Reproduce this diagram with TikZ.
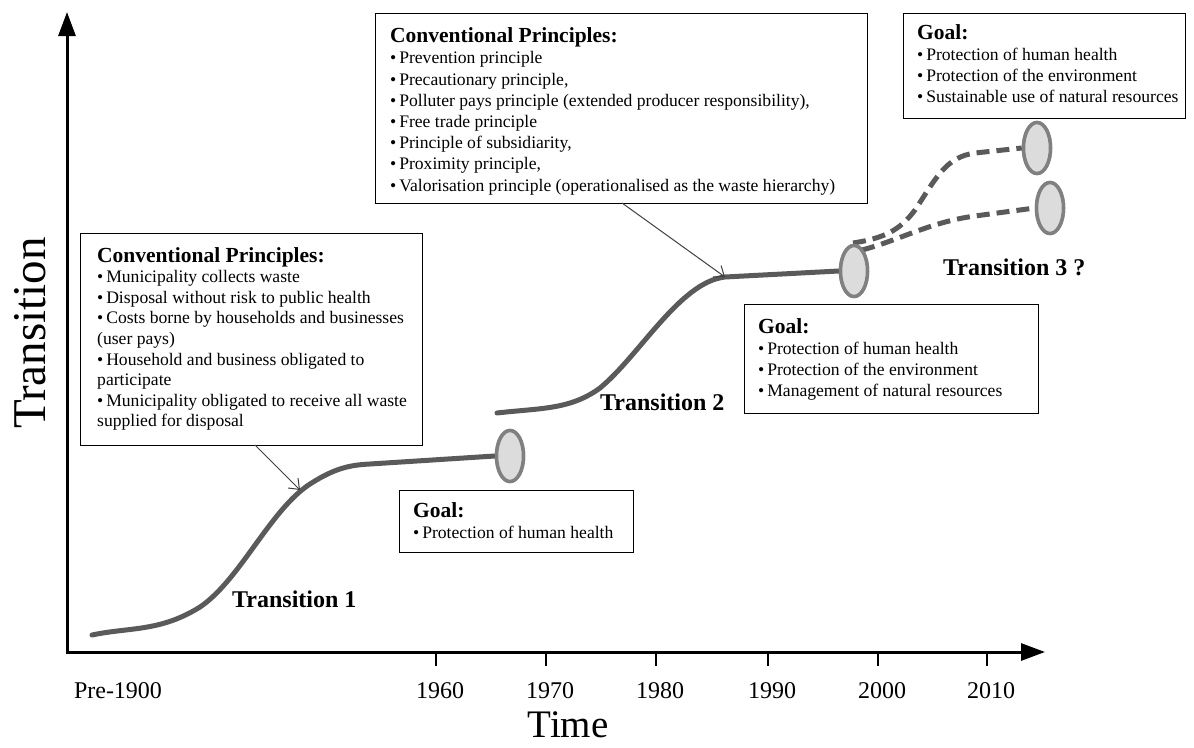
\documentclass[tikz,border=0pt]{standalone}
\usepackage{fontspec}
\setmainfont{Liberation Serif}
\usetikzlibrary{arrows.meta,shapes.geometric}
\definecolor{curvegray}{HTML}{5A5A5A}
\definecolor{ringline}{HTML}{808080}
\definecolor{ringfill}{HTML}{DCDCDC}
\definecolor{pointer}{HTML}{404040}
\newcommand{\bul}{\textbullet\,}
\newcommand{\boxhead}[1]{{\fontsize{21.5}{21}\selectfont\bfseries #1}}
\begin{document}
\begin{tikzpicture}[x=1pt,y=-1pt,
  axis/.style={line width=3pt,-{Triangle[length=24pt,width=17pt]}},
  tickmark/.style={line width=2pt},
  yearlab/.style={anchor=base,inner sep=0pt,font=\fontsize{24}{24}\selectfont},
  frame/.style={draw=black,line width=1.4pt,anchor=north west,inner sep=0pt},
  boxtext/.style={anchor=north west,inner sep=0pt,align=left,font=\fontsize{17.6}{21}\selectfont},
  phase/.style={line width=5pt,draw=curvegray,line cap=round},
  future/.style={phase,dash pattern=on 13pt off 7pt,line cap=butt},
  ring/.style={ellipse,draw=ringline,fill=ringfill,line width=3.5pt,minimum width=27pt,minimum height=51pt,inner sep=0pt},
  pointto/.style={draw=pointer,line width=1pt,-{Straight Barb[length=9pt,width=14pt]}},
  trlab/.style={anchor=base west,inner sep=0pt,font=\fontsize{24}{24}\selectfont\bfseries}]
\useasboundingbox (0,0) rectangle (1194,747);

% ---- axes ----
\coordinate (ytip) at (67,12);
\coordinate (xtip) at (1045,652);
\draw[axis] (67,654) -- (ytip);
\draw[axis] (66,652) -- (xtip);
\node[yearlab] (pre) at (118,698) {Pre-1900};
\foreach \yr/\xx in {1960/436,1970/546,1980/656,1990/768,2000/878,2010/987}{
  \draw[tickmark] (\xx,652) -- (\xx,666);
  \node[yearlab] (y\yr) at (\xx+4,698) {\yr};
}
\node[anchor=base,inner sep=0pt,font=\fontsize{39}{39}\selectfont] (timelab) at (568,737) {Time};
\node[rotate=90,inner sep=0pt,font=\fontsize{47}{47}\selectfont] (translab) at (30,333) {Transition};

% ---- information boxes ----
\node[frame,minimum width=342pt,minimum height=212pt] (cp1) at (80,233) {};
\node[boxtext,font=\fontsize{17.6}{20.6}\selectfont] (cp1txt) at (97,247) {\boxhead{Conventional Principles:}\\
\bul Municipality collects waste\\
\bul Disposal without risk to public health\\
\bul Costs borne by households and businesses\\
(user pays)\\
\bul Household and business obligated to\\
participate\\
\bul Municipality obligated to receive all waste\\
supplied for disposal};

\node[frame,minimum width=492pt,minimum height=190pt] (cp2) at (375,13) {};
\node[boxtext,font=\fontsize{17.6}{21.2}\selectfont] (cp2txt) at (390,27.5) {\boxhead{Conventional Principles:}\\
\bul Prevention principle\\
\bul Precautionary principle,\\
\bul Polluter pays principle (extended producer responsibility),\\
\bul Free trade principle\\
\bul Principle of subsidiarity,\\
\bul Proximity principle,\\
\bul Valorisation principle (operationalised as the waste hierarchy)};

\node[frame,minimum width=234pt,minimum height=62pt] (goal1) at (399,490) {};
\node[boxtext] (goal1txt) at (413,502.5) {\boxhead{Goal:}\\
\bul Protection of human health};

\node[frame,minimum width=294pt,minimum height=109pt] (goal2) at (744,304) {};
\node[boxtext] (goal2txt) at (758,318.5) {\boxhead{Goal:}\\
\bul Protection of human health\\
\bul Protection of the environment\\
\bul Management of natural resources};

\node[frame,minimum width=282pt,minimum height=105pt] (goal3) at (903,13) {};
\node[boxtext] (goal3txt) at (917,24) {\boxhead{Goal:}\\
\bul Protection of human health\\
\bul Protection of the environment\\
\bul Sustainable use of natural resources};

% ---- transition curves ----
\coordinate (s1) at (92,635);
\coordinate (s2) at (497,413);
\coordinate (hit1) at (300,490);
\coordinate (hit2) at (725,277);
\coordinate (up3) at (853,243);
\coordinate (lo3) at (862,250);

\node[ring] (ring1) at (510,456) {};
\node[ring] (ring2) at (854,271) {};
\node[ring] (ring3) at (1037,148) {};
\node[ring] (ring4) at (1050,208) {};

\draw[phase] (s1) .. controls (130,627) and (160,632) .. (200,607)
  .. controls (240,580) and (270,510) .. (310,484)
  .. controls (335,468) and (350,465) .. (370,464) -- (ring1.west);
\draw[phase] (s2) .. controls (540,408) and (570,410) .. (600,388)
  .. controls (640,355) and (680,282) .. (hit2) -- (ring2.west);
\draw[future] (up3) .. controls (885,238) and (900,230) .. (915,210)
  .. controls (935,180) and (945,157) .. (975,153) -- (ring3.west);
\draw[future] (lo3) .. controls (900,240) and (930,222) .. (975,216) -- (ring4.west);

% the rings sit on top of the curve ends
\node[ring] at (ring1) {};
\node[ring] at (ring2) {};
\node[ring] at (ring3) {};
\node[ring] at (ring4) {};

\node[trlab] (tr1) at (232,607) {Transition 1};
\node[trlab] (tr2) at (600,410) {Transition 2};
\node[trlab] (tr3) at (943,275) {Transition 3 ?};

% ---- pointers from the principle boxes ----
\coordinate (p1) at (255,445);
\coordinate (p2) at (622,203);
\draw[pointto] (p1) -- (hit1);
\draw[pointto] (p2) -- (hit2);
\end{tikzpicture}
\end{document}
